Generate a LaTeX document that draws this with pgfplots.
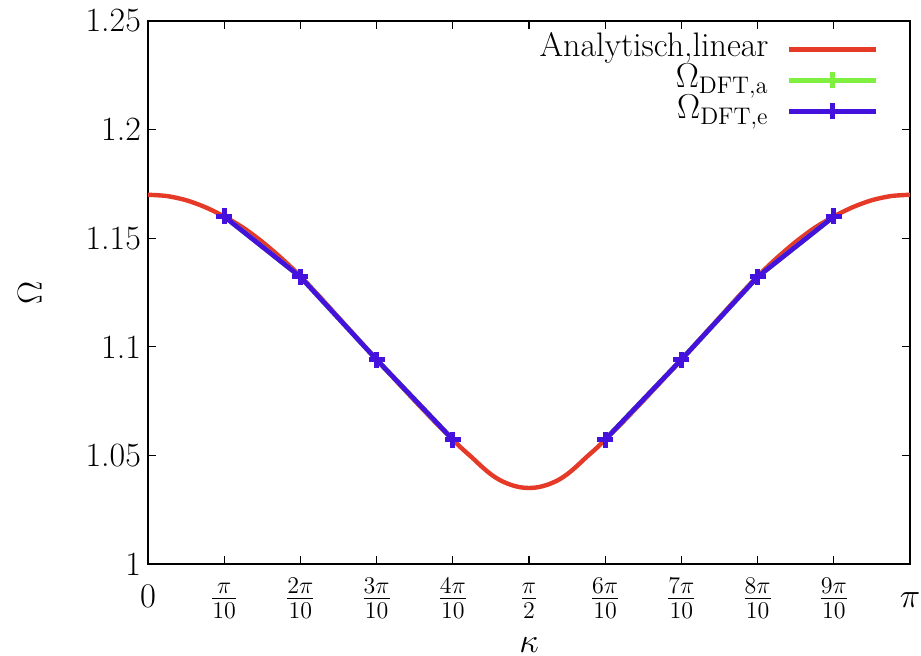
\documentclass[border=0pt]{standalone}
\usepackage{pgfplots}
\pgfplotsset{compat=1.18}
\definecolor{gpRed}{HTML}{E53A28}
\definecolor{gpGreen}{HTML}{80F040}
\definecolor{gpBlue}{HTML}{4411DD}
\begin{document}
\begin{tikzpicture}
\path[use as bounding box] (-74pt,-45.5pt) rectangle (386.5pt,282pt);
\begin{axis}[
  at={(0,0)}, anchor=south west,
  scale only axis, width=381pt, height=271.5pt,
  xmin=0, xmax=1, ymin=1, ymax=1.25,
  unbounded coords=jump,
  xtick={0,0.1,0.2,0.3,0.4,0.5,0.6,0.7,0.8,0.9,1},
  xticklabels={$0$,$\frac{\pi}{10}$,$\frac{2\pi}{10}$,$\frac{3\pi}{10}$,$\frac{4\pi}{10}$,$\frac{\pi}{2}$,$\frac{6\pi}{10}$,$\frac{7\pi}{10}$,$\frac{8\pi}{10}$,$\frac{9\pi}{10}$,$\pi$},
  xticklabel style={anchor=base, yshift=-21.5pt},
  ytick={1,1.05,1.1,1.15,1.2,1.25},
  yticklabels={1,1.05,1.1,1.15,1.2,1.25},
  tick align=inside, major tick length=4pt,
  tick style={black, line width=0.6pt},
  axis line style={black, line width=0.8pt},
  tick label style={font=\fontsize{17}{20}\selectfont},
  xlabel={$\kappa$}, ylabel={$\Omega$},
  every axis x label/.style={at={(axis description cs:0.5,-0.149)}, anchor=center, inner sep=0pt, font=\fontsize{17}{20}\selectfont},
  every axis y label/.style={at={(axis description cs:-0.155,0.5)}, rotate=90, anchor=center, font=\fontsize{17}{20}\selectfont},
  legend style={draw=none, fill=none, at={(0.959,0.975)}, anchor=north east,
    inner sep=0pt, row sep=1pt, column sep=9pt,
    font=\fontsize{17}{20}\selectfont,
    nodes={inner sep=0pt, text height=11pt, text depth=3.5pt}},
  legend cell align=right, legend plot pos=right,
  legend image code/.code={\draw[mark repeat=2,mark phase=2,#1] plot coordinates {(0cm,0cm) (0.77cm,0cm) (1.53cm,0cm)};},
]
\addplot[gpRed, line width=2.2pt, smooth, no markers] coordinates {
  (0,1.1700) (0.025,1.1694) (0.05,1.1675) (0.075,1.1643) (0.1,1.1600)
  (0.125,1.1548) (0.15,1.1483) (0.175,1.1408) (0.2,1.1325) (0.225,1.1232)
  (0.25,1.1135) (0.275,1.1038) (0.3,1.0941) (0.325,1.0846) (0.35,1.0752)
  (0.375,1.0660) (0.4,1.0572) (0.4125,1.0530) (0.425,1.0491) (0.4375,1.0450)
  (0.45,1.0413) (0.4625,1.0385) (0.475,1.0366) (0.4875,1.0354) (0.5,1.0350)
  (0.5125,1.0354) (0.525,1.0366) (0.5375,1.0385) (0.55,1.0413) (0.5625,1.0450)
  (0.575,1.0491) (0.5875,1.0530) (0.6,1.0572) (0.625,1.0660) (0.65,1.0752)
  (0.675,1.0846) (0.7,1.0941) (0.725,1.1038) (0.75,1.1135) (0.775,1.1232)
  (0.8,1.1325) (0.825,1.1408) (0.85,1.1483) (0.875,1.1548) (0.9,1.1600)
  (0.925,1.1643) (0.95,1.1675) (0.975,1.1694) (1,1.1700)
};
\addlegendentry{Analytisch,linear}
\addplot[gpGreen, line width=2.4pt, mark=+, mark size=4pt, mark options={line width=2.4pt}] coordinates {
  (0.1,1.1600) (0.2,1.1322) (0.3,1.0941) (0.4,1.0573) (0.5,nan)
  (0.6,1.0573) (0.7,1.0941) (0.8,1.1322) (0.9,1.1600)
};
\addlegendentry{$\Omega_{\mathrm{DFT,a}}$}
\addplot[gpBlue, line width=2.4pt, mark=+, mark size=4pt, mark options={line width=2.4pt}] coordinates {
  (0.1,1.1600) (0.2,1.1322) (0.3,1.0941) (0.4,1.0573) (0.5,nan)
  (0.6,1.0573) (0.7,1.0941) (0.8,1.1322) (0.9,1.1600)
};
\addlegendentry{$\Omega_{\mathrm{DFT,e}}$}
\end{axis}
\end{tikzpicture}
\end{document}
